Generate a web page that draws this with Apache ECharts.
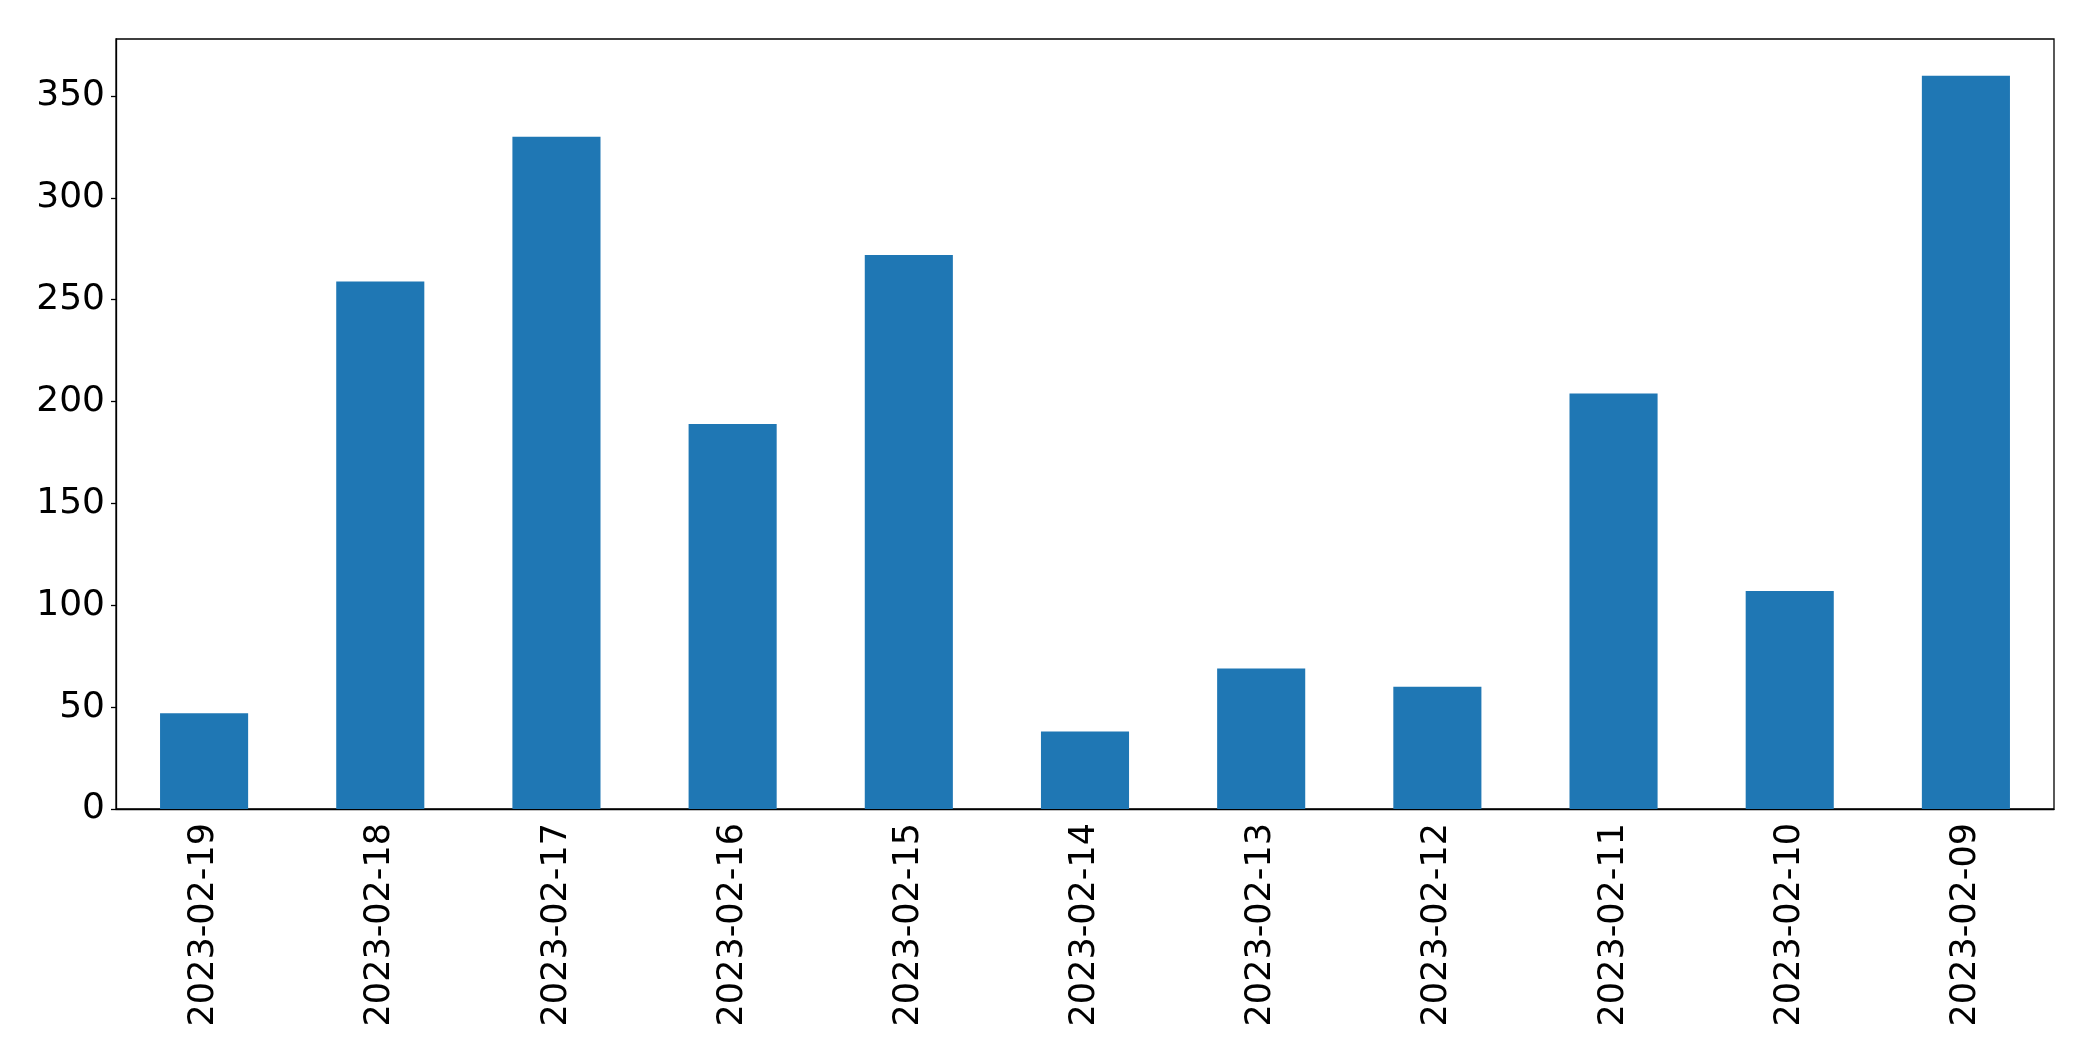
<!DOCTYPE html>
<html>
<head>
<meta charset="utf-8">
<script src="https://cdn.jsdelivr.net/npm/echarts@6/dist/echarts.min.js"></script>
<style>
html,body{margin:0;padding:0;background:#fff;}
#chart{width:2093px;height:1061px;}
</style>
</head>
<body>
<div id="chart"></div>
<script>
const categories = ['2023-02-19','2023-02-18','2023-02-17','2023-02-16','2023-02-15','2023-02-14','2023-02-13','2023-02-12','2023-02-11','2023-02-10','2023-02-09'];
const values = [47, 259, 330, 189, 272, 38, 69, 60, 204, 107, 360];
const yTicks = [0, 50, 100, 150, 200, 250, 300, 350];

const chart = echarts.init(document.getElementById('chart'));
const font = 'DejaVu Sans';
chart.setOption({
  animation: false,
  backgroundColor: '#fff',
  grid: {left: 116, right: 39, top: 39, bottom: 252, show: true, borderColor: '#000', borderWidth: 1.3, backgroundColor: 'transparent'},
  xAxis: {
    type: 'category',
    data: categories,
    boundaryGap: true,
    axisLine: {lineStyle: {color: '#000', width: 1.3}},
    axisTick: {alignWithLabel: true, length: 5, lineStyle: {color: '#000', width: 1.3}},
    axisLabel: {rotate: 90, margin: 14, fontFamily: font, fontSize: 35, color: '#000', interval: 0},
    splitLine: {show: false}
  },
  yAxis: {
    type: 'value',
    min: 0,
    max: 378,
    axisLine: {show: true, lineStyle: {color: '#000', width: 1.3}},
    axisTick: {show: true, length: 5, lineStyle: {color: '#000', width: 1.3}, customValues: yTicks},
    axisLabel: {margin: 11, fontFamily: font, fontSize: 36, color: '#000', customValues: yTicks},
    splitLine: {show: false}
  },
  series: [{
    type: 'bar',
    data: values,
    barWidth: '50%',
    itemStyle: {color: '#1f77b4'}
  }]
});
</script>
</body>
</html>
